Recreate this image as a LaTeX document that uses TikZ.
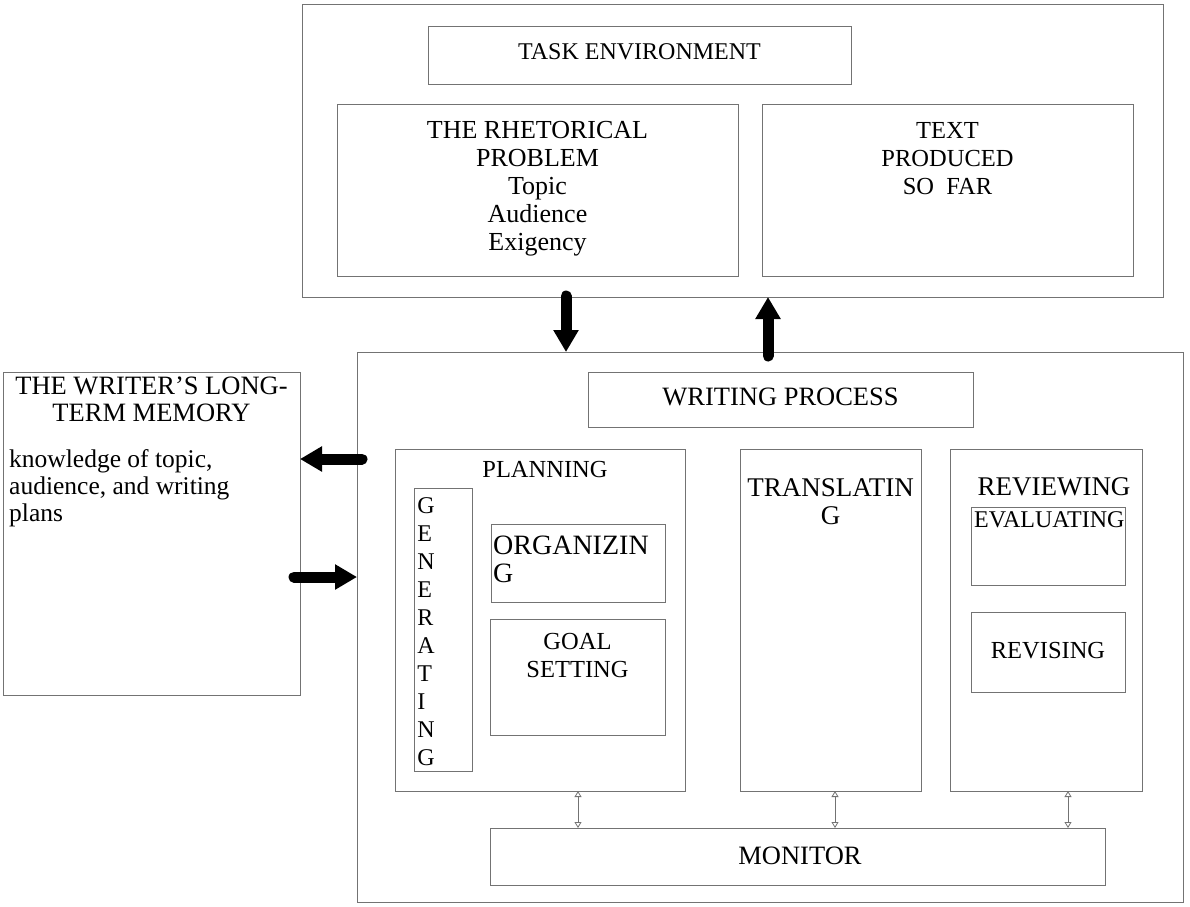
\documentclass[tikz,border=0pt]{standalone}
\usepackage{fontspec}
\setmainfont{Liberation Serif}
\usetikzlibrary{arrows.meta}
\begin{document}
\begin{tikzpicture}[x=1pt,y=-1pt,
  box/.style={draw=black!55, line width=0.9pt, inner sep=0pt, outer sep=0pt},
  txt/.style={inner sep=0pt, align=center, font=\fontsize{#1}{28}\selectfont},
  txt/.default=24,
  txtb/.style={inner sep=0pt, align=left, font=\fontsize{#1}{27}\selectfont},
  bigarrow/.style={line width=11pt, line cap=round, -{Triangle[width=24pt 0 0,length=22pt 0 0]}},
  smallarrow/.style={draw=black!55, line width=0.8pt, {Triangle[open,width=7pt 0 0,length=6pt 0 0]}-{Triangle[open,width=7pt 0 0,length=6pt 0 0]}}]
\useasboundingbox (0,0) rectangle (1190,906);
% task environment
\node[box, minimum width=861, minimum height=293] (task) at (732.5,150.5) {};
\node[box, minimum width=423, minimum height=58] (taskt) at (639.5,55) {};
\node[txt=24, anchor=base] (taskl) at (639.5,59) {TASK ENVIRONMENT};
\node[box, minimum width=401, minimum height=172] (rhet) at (537.5,190) {};
\node[txt=26, anchor=north] (rhetl) at (537.5,121.5) {THE RHETORICAL\\PROBLEM\\Topic\\Audience\\Exigency};
\node[box, minimum width=371, minimum height=172] (text) at (947.5,190) {};
\node[txt=24.5, anchor=north] (textl) at (947.5,122.5) {TEXT\\PRODUCED\\SO\ \ FAR};
% writing process
\node[box, minimum width=826, minimum height=550] (wp) at (770,627) {};
\node[box, minimum width=385, minimum height=55] (wpt) at (780.5,399.5) {};
\node[txt=26.5, anchor=base] (wpl) at (780.5,405) {WRITING PROCESS};
% memory
\node[box, minimum width=297, minimum height=323] (mem) at (151.5,533.5) {};
\node[txtb=26.5, align=center, anchor=north] (meml1) at (151.5,377) {THE WRITER’S LONG-\\TERM MEMORY};
\node[txtb=25.5, anchor=north west] (meml2) at (9,449) {knowledge of topic,\\audience, and writing\\plans};
% planning
\node[box, minimum width=290, minimum height=342] (plan) at (540,620) {};
\node[txt=24.5, anchor=base] (planl) at (545,477) {PLANNING};
\node[box, minimum width=58, minimum height=283] (gen) at (443,629.5) {};
\node[txt=24, anchor=north, align=left] (genl) at (426,497) {G\\E\\N\\E\\R\\A\\T\\I\\N\\G};
\node[box, minimum width=174, minimum height=78] (org) at (578,563) {};
\node[txt=28, anchor=north west, align=left] (orgl) at (493,535.5) {ORGANIZIN\\G};
\node[box, minimum width=175, minimum height=116] (goal) at (577.5,677) {};
\node[txt=24.5, anchor=north] (goall) at (577.5,633.5) {GOAL\\SETTING};
% translating
\node[box, minimum width=181, minimum height=342] (trans) at (830.5,620) {};
\node[txt=27, anchor=north] (transl) at (830.5,478) {TRANSLATIN\\G};
% reviewing
\node[box, minimum width=192, minimum height=342] (rev) at (1046,620) {};
\node[txt=27, anchor=base] (revl) at (1054,495) {REVIEWING};
\node[box, minimum width=154, minimum height=78] (eval) at (1048,546) {};
\node[txt=24, anchor=base west] (evall) at (974,527) {EVALUATING};
\node[box, minimum width=154, minimum height=80] (revis) at (1048,652) {};
\node[txt=24.5, anchor=base] (revisl) at (1048,658) {REVISING};
% monitor
\node[box, minimum width=615, minimum height=57] (mon) at (797.5,856.5) {};
\node[txt=26.5, anchor=base] (monl) at (800,864) {MONITOR};
% coordinates for connectors
\coordinate (xd) at (566,0);
\coordinate (xu) at (768,0);
\coordinate (yl1) at (0,459);
\coordinate (yl2) at (0,577);
\coordinate (xm1) at (578,0);
\coordinate (xm2) at (835,0);
\coordinate (xm3) at (1068,0);
\coordinate (dtail) at (566,296);
\coordinate (utail) at (768,356);
\coordinate (ltail) at (362,459);
\coordinate (rtail) at (294,577);
% big arrows
\draw[bigarrow] (dtail) -- (wp.north -| xd);
\draw[bigarrow] (utail) -- (task.south -| xu);
\draw[bigarrow] (ltail) -- (mem.east |- yl1);
\draw[bigarrow] (rtail) -- (wp.west |- yl2);
% small arrows
\draw[smallarrow] (plan.south -| xm1) -- (mon.north -| xm1);
\draw[smallarrow] (trans.south -| xm2) -- (mon.north -| xm2);
\draw[smallarrow] (rev.south -| xm3) -- (mon.north -| xm3);
\end{tikzpicture}
\end{document}
